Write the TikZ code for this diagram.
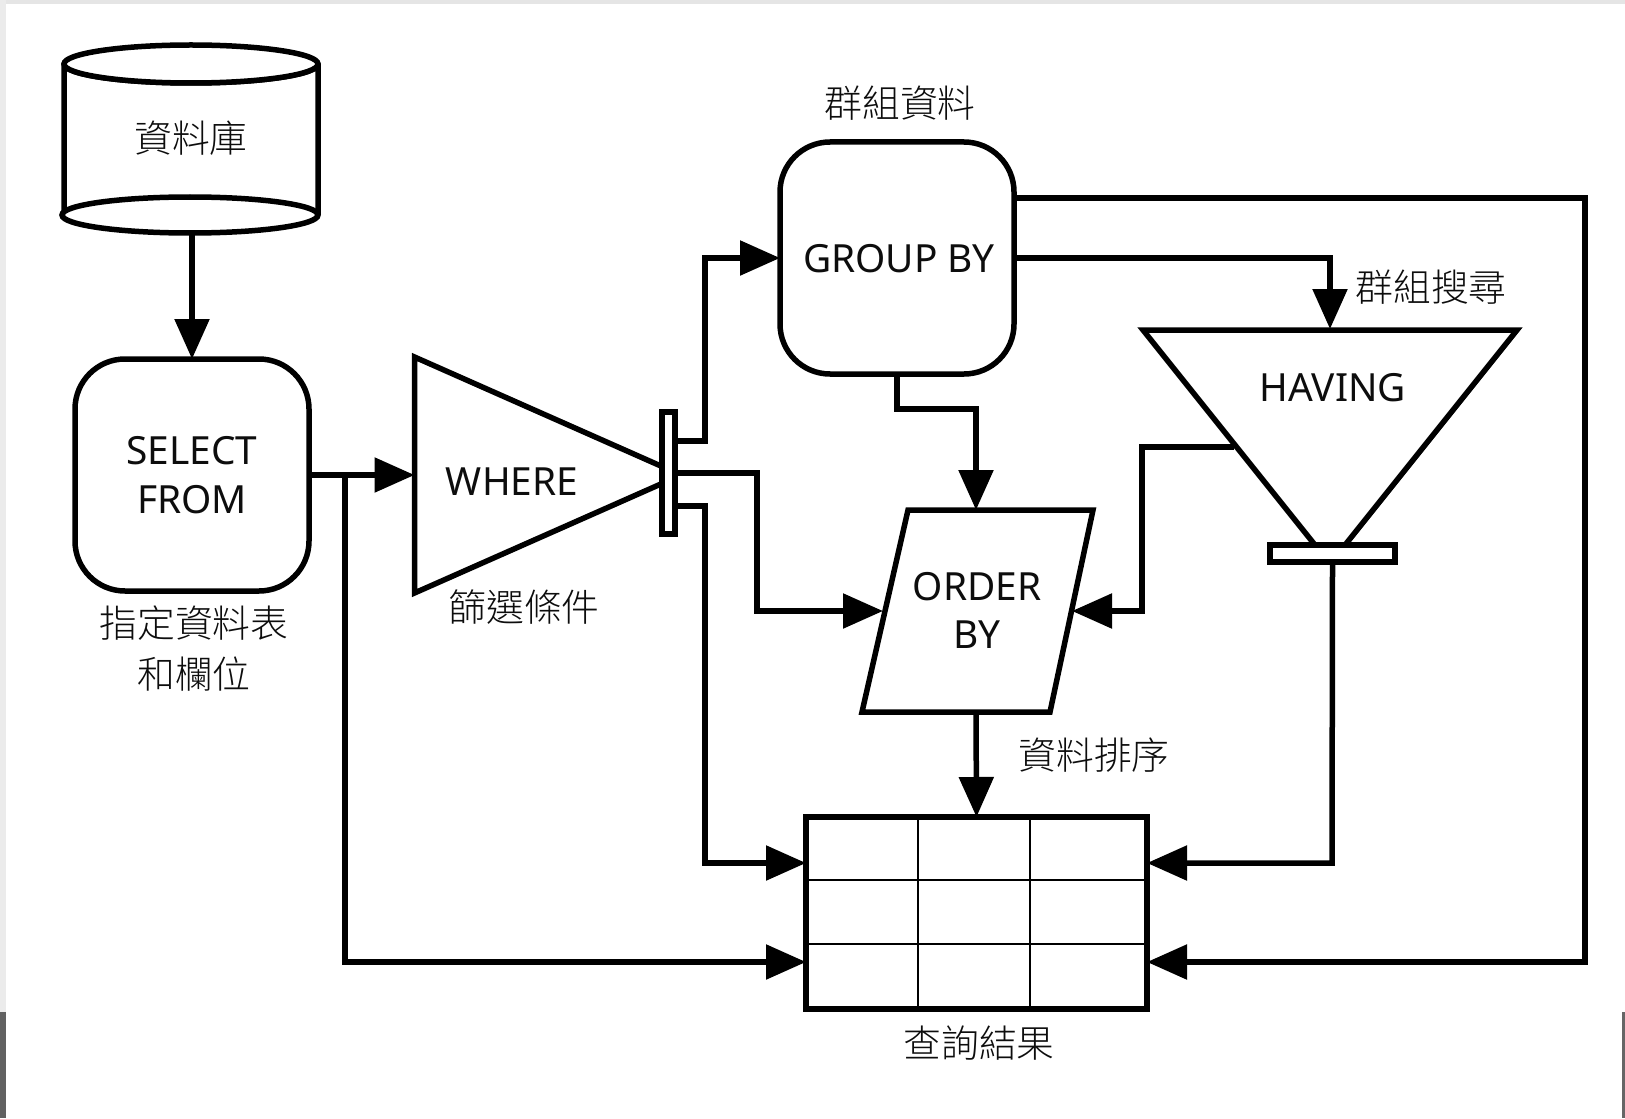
\documentclass[tikz,border=0pt]{standalone}
\usepackage{fontspec}
\setmainfont{Noto Sans}
\newfontfamily\cjk{Noto Sans CJK TC Light}
\usetikzlibrary{arrows.meta}
\tikzset{
  ln/.style={draw=black,line width=2.75pt,line join=miter},
  conn/.style={ln,-{Triangle[length=20pt,width=17pt]}},
  rbox/.style={ln,rectangle,rounded corners=25pt,minimum width=117pt,minimum height=116pt,outer sep=0pt,inner sep=0pt,fill=white},
  barbox/.style={ln,rectangle,outer sep=0pt,inner sep=0pt,fill=white},
  lat/.style={inner sep=0pt,font=\fontsize{19.4}{19.4}\selectfont,text=black!95},
  zh/.style={inner sep=0pt,font=\cjk\fontsize{18.9}{18.9}\selectfont,text=black!95},
  solid shape/.style={ln,fill=white},
  gridline/.style={draw=black,line width=1.4pt},
}
\begin{document}
\begin{tikzpicture}[x=0.5pt,y=-0.5pt]
\useasboundingbox (0,0) rectangle (1625,1118);
% screenshot edges
\fill[black!10] (0,0) rectangle (1625,4);
\fill[black!8] (0,0) rectangle (6,1012);
\fill[black!62] (0,1012) rectangle (6,1118);
\fill[black!60] (1622,1012) rectangle (1625,1118);

% named points
\coordinate (cylTL) at (64,64);
\coordinate (cylBL) at (64,215);
\coordinate (cylBR) at (318,215);
\coordinate (cylBot) at (192,233);
\coordinate (whA) at (414.5,357);
\coordinate (whB) at (414.5,593);
\coordinate (whC) at (662,466.5);
\coordinate (whD) at (662,483.5);
\coordinate (haA) at (1143,330);
\coordinate (haB) at (1517,330);
\coordinate (haC) at (1315,545);
\coordinate (haD) at (1345,545);
\coordinate (haLeft) at (1234,447);
\coordinate (orA) at (908,510);
\coordinate (orB) at (1093,510);
\coordinate (orC) at (1050,712);
\coordinate (orD) at (862,712);
\coordinate (orLeft) at (883,611);
\coordinate (orRight) at (1072,611);
\coordinate (orTop) at (976,510);
\coordinate (orBot) at (976,712);
\coordinate (haTop) at (1330,329);

% cylinder
\draw[ln,line join=round,fill=white] (cylBL) -- (cylTL) arc[start angle=180,end angle=0,x radius=127,y radius=19] -- (cylBR);
\draw[ln,fill=white] (191,64) ellipse[x radius=127,y radius=19];
\draw[ln,fill=white] (190,215) ellipse[x radius=128,y radius=18];

% boxes
\node[rbox] (sel) at (192,475) {};
\node[rbox] (grp) at (897,258) {};
\draw[solid shape] (whC) -- (whA) -- (whB) -- (whD);
\draw[solid shape] (haC) -- (haA) -- (haB) -- (haD);
\draw[solid shape] (orA) -- (orB) -- (orC) -- (orD) -- cycle;
\node[barbox,minimum width=6.5pt,minimum height=61pt] (wbar) at (668.5,473) {};
\node[barbox,minimum width=62.5pt,minimum height=8.5pt] (hbar) at (1332.5,553.5) {};

% table
\node[ln,rectangle,minimum width=170.5pt,minimum height=96pt,outer sep=0pt,inner sep=0pt,fill=white] (tbl) at (976.5,913) {};
\draw[gridline] (918,817) -- (918,1009);
\draw[gridline] (1030,817) -- (1030,1009);
\draw[gridline] (806,880) -- (1147,880);
\draw[gridline] (806,944) -- (1147,944);

% connectors
\draw[conn] (cylBot) -- (sel.north);
\draw[conn] (sel.east) -- (whA |- sel.east);
\draw[conn] (345,475) -- (345,962) -- (tbl.west |- 0,962);
\draw[conn] (wbar.east |- 0,441) -- (705,441) -- (705,258) -- (grp.west);
\draw[conn] (wbar.east) -- (757,473) -- (757,611) -- (orLeft);
\draw[conn] (wbar.east |- 0,506) -- (705,506) -- (705,863) -- (tbl.west |- 0,863);
\draw[conn] (grp.east) -- (1330,258) -- (haTop);
\draw[conn] (grp.east |- 0,198) -- (1585,198) -- (1585,962) -- (tbl.east |- 0,962);
\draw[conn] (grp.south) -- (897,409) -- (976,409) -- (orTop);
\draw[conn] (haLeft) -- (1142,447) -- (1142,611) -- (orRight);
\draw[conn] (hbar.south) -- (1332,863) -- (tbl.east |- 0,863);
\draw[conn] (orBot) -- (tbl.north);

% texts
\node[zh] (tDb) at (191,138) {資料庫};
\node[lat] (tSel) at (192,451) {SELECT};
\node[lat] (tFrom) at (192,500) {FROM};
\node[zh] (tSpec) at (194,623) {指定資料表};
\node[zh] (tCol) at (194,674) {和欄位};
\node[lat] (tWhere) at (512,482) {WHERE};
\node[zh] (tFilt) at (524,607) {篩選條件};
\node[zh] (tGrpD) at (900,103) {群組資料};
\node[lat] (tGrp) at (899,259) {GROUP BY};
\node[zh] (tGrpS) at (1431,287) {群組搜尋};
\node[lat] (tHav) at (1333,388) {HAVING};
\node[lat] (tOrd) at (977,587) {ORDER};
\node[lat] (tBy) at (977,635) {BY};
\node[zh] (tSort) at (1094,755) {資料排序};
\node[zh] (tRes) at (979,1043) {查詢結果};
\end{tikzpicture}
\end{document}
